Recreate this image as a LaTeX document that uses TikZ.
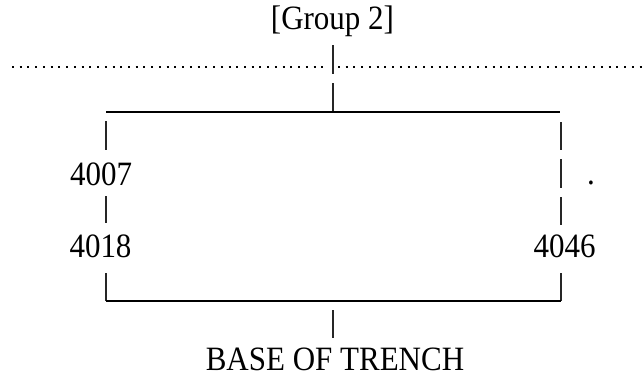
\documentclass[tikz,border=0pt]{standalone}
\usepackage{fontspec}
\setmainfont{Liberation Serif}
\begin{document}
\begin{tikzpicture}[x=0.75pt,y=-0.75pt,
  lbl/.style={anchor=base,inner sep=0pt,font=\fontsize{23.25pt}{26pt}\selectfont},
  barline/.style={line width=1pt,draw=black!85},
  ruleline/.style={line width=1pt,draw=black},
  dotline/.style={line width=1.5pt,dash pattern=on 1.5pt off 4.3pt}]
\useasboundingbox (0,0) rectangle (644,376);
% text nodes
\node[lbl] (g2) at (332.5,29) {\scalebox{1}[1.1]{[Group 2]}};
\node[lbl] (n4007) at (101,185) {\scalebox{1}[1.1]{4007}};
\node[lbl] (n4018) at (100.5,257) {\scalebox{1}[1.1]{4018}};
\node[lbl] (n4046) at (564.5,257) {\scalebox{1}[1.1]{4046}};
\node[lbl] (dot) at (591,184) {\scalebox{1}[1.1]{.}};
\node[lbl] (base) at (335,370) {\scalebox{1}[1.1]{BASE OF TRENCH}};
% coordinates
\coordinate (c1a) at (333,45);  \coordinate (c1b) at (333,74);
\coordinate (dl0) at (12,67);   \coordinate (dl1) at (329,67);
\coordinate (dr0) at (338,67);  \coordinate (dr1) at (644,67);
\coordinate (c2a) at (333,83);  \coordinate (c2b) at (333,112);
\coordinate (tl) at (106,112);  \coordinate (tr) at (560,112);
\coordinate (l1a) at (106,121); \coordinate (l1b) at (106,150);
\coordinate (r1a) at (561,122); \coordinate (r1b) at (561,150);
\coordinate (r2a) at (561,159); \coordinate (r2b) at (561,188);
\coordinate (l2a) at (106,196); \coordinate (l2b) at (106,223);
\coordinate (r3a) at (561,197); \coordinate (r3b) at (561,225);
\coordinate (l3a) at (106,273); \coordinate (bl) at (106,301);
\coordinate (r4a) at (561,273); \coordinate (br) at (561,301);
\coordinate (c3a) at (333,310); \coordinate (c3b) at (333,338);
% connectors
\draw[barline] (c1a) -- (c1b);
\draw[dotline] (dl0) -- (dl1);
\draw[dotline] (dr0) -- (dr1);
\draw[barline] (c2a) -- (c2b);
\draw[ruleline] (tl) -- (tr);
\draw[barline] (l1a) -- (l1b);
\draw[barline] (r1a) -- (r1b);
\draw[barline] (r2a) -- (r2b);
\draw[barline] (l2a) -- (l2b);
\draw[barline] (r3a) -- (r3b);
\draw[barline] (l3a) -- (bl);
\draw[barline] (r4a) -- (br);
\draw[ruleline] (bl) -- (br);
\draw[barline] (c3a) -- (c3b);
\end{tikzpicture}
\end{document}
